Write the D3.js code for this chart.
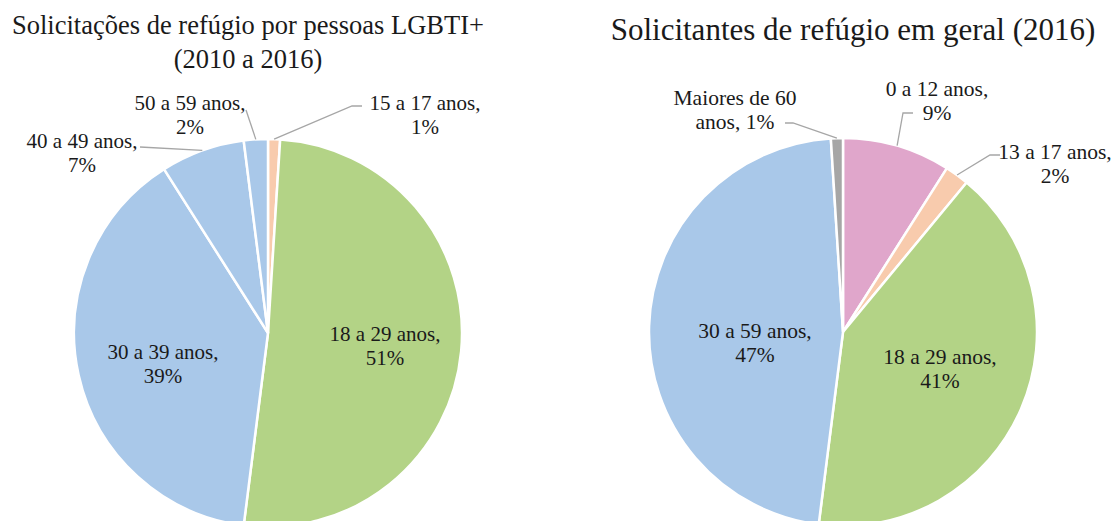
<!DOCTYPE html>
<html>
<head>
<meta charset="utf-8">
<script src="https://cdn.jsdelivr.net/npm/d3@7"></script>
<style>
  body { margin: 0; background: #fff; }
</style>
</head>
<body>
<script>
const svgWidth = 1115
const svgHeight = 521
const fontFamily = "'Liberation Serif', 'Times New Roman', 'DejaVu Serif', serif"

// left pie: LGBTI+ requests 2010-2016
const lgbtCategories = ["15 a 17 anos", "18 a 29 anos", "30 a 39 anos", "40 a 49 anos", "50 a 59 anos"]
const lgbtValues = [1, 51, 39, 7, 2]

// right pie: all requests 2016
const geralCategories = ["0 a 12 anos", "13 a 17 anos", "18 a 29 anos", "30 a 59 anos", "Maiores de 60 anos"]
const geralValues = [9, 2, 41, 47, 1]

const titleLeft = ["Solicitações de refúgio por pessoas LGBTI+", "(2010 a 2016)"]
const titleRight = ["Solicitantes de refúgio em geral (2016)"]

const colorPeach = "#f8cbad"
const colorGreen = "#b3d386"
const colorBlue = "#a9c8e9"
const colorPink = "#e0a6cb"
const colorGray = "#a6a6a6"
const colorLeader = "#a6a6a6"
const colorText = "#1a1a1a"

// label layout: text lines, block center, and leader line points (elbow, end)
const lgbtLabels = [
    {lines: ["15 a 17 anos,", "1%"], x: 425, y: 103, leader: [[352, 106], [362, 106]]},
    {lines: ["18 a 29 anos,", "51%"], x: 385, y: 334},
    {lines: ["30 a 39 anos,", "39%"], x: 163, y: 352},
    {lines: ["40 a 49 anos,", "7%"], x: 82, y: 141, leader: [[140, 147]]},
    {lines: ["50 a 59 anos,", "2%"], x: 190, y: 103, leader: [[246, 110]]}
]
const geralLabels = [
    {lines: ["0 a 12 anos,", "9%"], x: 937, y: 88, leader: [[903, 113], [913, 113]]},
    {lines: ["13 a 17 anos,", "2%"], x: 1055, y: 151, leader: [[990, 155], [1000, 155]]},
    {lines: ["18 a 29 anos,", "41%"], x: 940, y: 356},
    {lines: ["30 a 59 anos,", "47%"], x: 755, y: 330},
    {lines: ["Maiores de 60", "anos, 1%"], x: 735, y: 97, leader: [[793, 123], [785, 123]]}
]

const svg = d3.select("body").append("svg")
    .attr("width", svgWidth)
    .attr("height", svgHeight)

const pie = d3.pie().sort(null).value(d => d)

function drawPie(cx, cy, radius, values, colors, labels, fontSize) {
    const g = svg.append("g")
        .attr("transform", `translate(${cx}, ${cy})`)

    const arc = d3.arc().innerRadius(0).outerRadius(radius)
    const edge = d3.arc().innerRadius(radius).outerRadius(radius)
    const arcs = pie(values)

    g.selectAll("path.slice")
        .data(arcs)
        .join("path")
        .attr("class", "slice")
        .attr("d", arc)
        .attr("fill", (d, i) => colors[i])
        .attr("stroke", "#fff")
        .attr("stroke-width", 2.5)

    const line = d3.line()
    arcs.forEach((d, i) => {
        const lab = labels[i]
        if (lab.leader) {
            const p0 = edge.centroid(d)
            const pts = [[p0[0] + cx, p0[1] + cy]].concat(lab.leader)
            svg.append("path")
                .attr("d", line(pts))
                .attr("fill", "none")
                .attr("stroke", colorLeader)
                .attr("stroke-width", 1.3)
        }
        const t = svg.append("text")
            .attr("text-anchor", "middle")
            .attr("font-family", fontFamily)
            .attr("fill", colorText)
            .attr("font-size", fontSize)
        lab.lines.forEach((s, k) => {
            t.append("tspan")
                .attr("x", lab.x)
                .attr("y", lab.y + k * 24)
                .attr("dy", "0.35em")
                .text(s)
        })
    })
}

drawPie(268, 333, 194, lgbtValues, [colorPeach, colorGreen, colorBlue, colorBlue, colorBlue], lgbtLabels, 21)
drawPie(843, 332, 194, geralValues, [colorPink, colorPeach, colorGreen, colorBlue, colorGray], geralLabels, 21.5)

const tl = svg.append("text")
    .attr("text-anchor", "middle")
    .attr("font-family", fontFamily)
    .attr("fill", colorText)
    .attr("font-size", 26.5)
titleLeft.forEach((s, k) => {
    tl.append("tspan")
        .attr("x", 248)
        .attr("y", 25 + k * 34)
        .attr("dy", "0.35em")
        .text(s)
})

svg.append("text")
    .attr("text-anchor", "middle")
    .attr("font-family", fontFamily)
    .attr("fill", colorText)
    .attr("font-size", 31)
    .attr("x", 853)
    .attr("y", 29)
    .attr("dy", "0.35em")
    .text(titleRight[0])
</script>
</body>
</html>
